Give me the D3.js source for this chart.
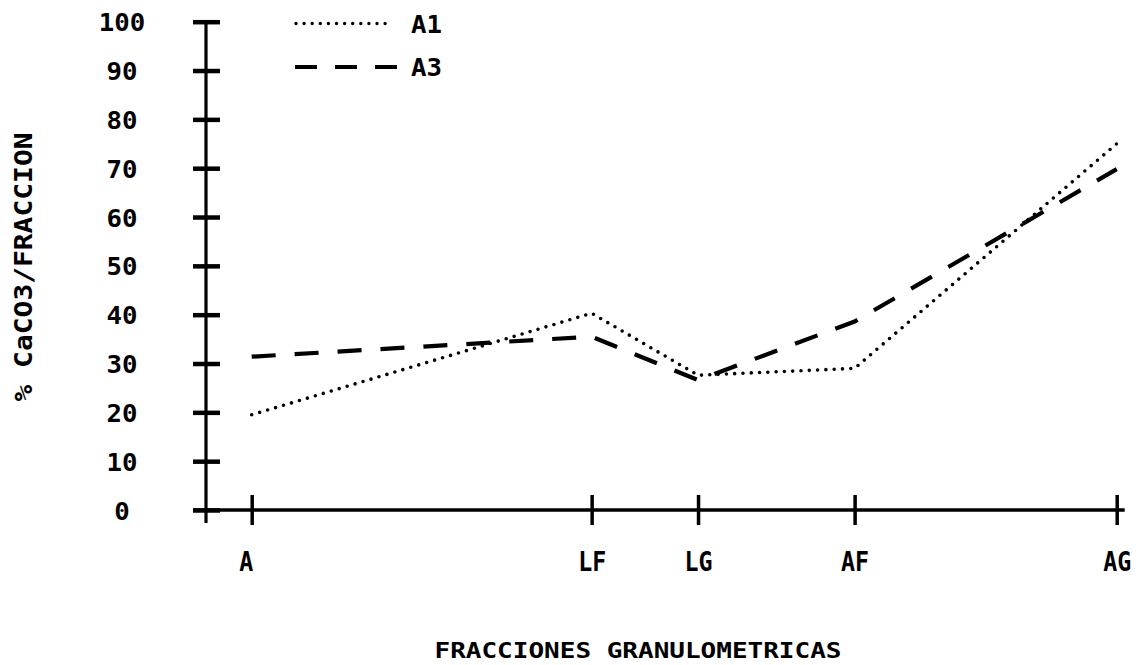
<!DOCTYPE html>
<html>
<head>
<meta charset="utf-8">
<script src="https://cdn.jsdelivr.net/npm/d3@7/dist/d3.min.js"></script>
<style>
  html, body { margin: 0; padding: 0; background: #fff; }
  svg { display: block; }
  text { font-family: "DejaVu Sans Mono", "Liberation Mono", monospace; font-weight: bold; fill: #000; }
</style>
</head>
<body>
<svg id="chart" width="1140" height="665"></svg>
<script>
// Granulometric fractions along the x axis and their relative spacing
const fractions = ["A", "LF", "LG", "AF", "AG"];
const fractionSpacing = [0, 0.393, 0.516, 0.697, 1];

// % CaCO3 per fraction for each sample
const seriesA1 = [19.5, 40.3, 27.6, 29.0, 75.0];
const seriesA3 = [31.4, 35.5, 26.6, 38.6, 69.8];

// Y tick values
const yTicks = [0, 10, 20, 30, 40, 50, 60, 70, 80, 90, 100];

const svg = d3.select("#chart");

const x = d3.scaleLinear().domain([0, 1]).range([251.7, 1116.7]);
const y = d3.scaleLinear().domain([0, 100]).range([510, 21.7]);
const axisX = 206;

// Y axis: ticks cross the axis line
const yAxis = svg.append("g")
  .attr("transform", `translate(${axisX},0)`)
  .call(d3.axisLeft(y).tickValues(yTicks).tickSize(14).tickFormat(d3.format("d")));
yAxis.select(".domain").remove();
yAxis.selectAll(".tick line")
  .attr("x1", -13).attr("x2", 14)
  .attr("stroke", "#000").attr("stroke-width", 4.5);
yAxis.selectAll(".tick text")
  .attr("x", 122 - axisX).attr("dy", "0.36em")
  .attr("text-anchor", "middle")
  .attr("textLength", d => String(d).length * 15.5)
  .attr("lengthAdjust", "spacingAndGlyphs")
  .style("font-size", "25px");
yAxis.append("line")
  .attr("x1", 0).attr("x2", 0)
  .attr("y1", y(100)).attr("y2", y(0) + 13)
  .attr("stroke", "#000").attr("stroke-width", 3.2);

// X axis: ticks cross the axis line
const xAxis = svg.append("g")
  .attr("transform", `translate(0,${y(0)})`)
  .call(d3.axisBottom(x).tickValues(fractionSpacing).tickSize(15)
    .tickFormat((d, i) => fractions[i]));
xAxis.select(".domain").remove();
xAxis.selectAll(".tick line")
  .attr("y1", -15).attr("y2", 15)
  .attr("stroke", "#000").attr("stroke-width", 3.5);
xAxis.selectAll(".tick text")
  .attr("x", (d, i) => i === 0 ? -6 : 0)
  .attr("y", 52).attr("dy", "0.36em")
  .attr("textLength", (d, i) => fractions[i].length * 14)
  .attr("lengthAdjust", "spacingAndGlyphs")
  .style("font-size", "26px");
xAxis.append("line")
  .attr("x1", axisX - 13).attr("x2", x(1) + 8)
  .attr("y1", 0).attr("y2", 0)
  .attr("stroke", "#000").attr("stroke-width", 3.5);

// Data lines
const line = d3.line()
  .x((d, i) => x(fractionSpacing[i]))
  .y(d => y(d));

svg.append("path")
  .datum(seriesA3)
  .attr("d", line)
  .attr("fill", "none")
  .attr("stroke", "#000")
  .attr("stroke-width", 4.2)
  .attr("stroke-dasharray", "24 19");

svg.append("path")
  .datum(seriesA1)
  .attr("d", line)
  .attr("fill", "none")
  .attr("stroke", "#000")
  .attr("stroke-width", 3.6)
  .attr("stroke-linecap", "round")
  .attr("stroke-dasharray", "0 8.3");

// Legend
const legend = svg.append("g");
legend.append("line")
  .attr("x1", 296).attr("x2", 393).attr("y1", 23.5).attr("y2", 23.5)
  .attr("stroke", "#000").attr("stroke-width", 3.4)
  .attr("stroke-linecap", "round").attr("stroke-dasharray", "0 8.1");
legend.append("text")
  .attr("x", 411).attr("y", 23.5).attr("dy", "0.36em")
  .attr("textLength", 31).attr("lengthAdjust", "spacingAndGlyphs")
  .style("font-size", "25px").text("A1");
legend.append("line")
  .attr("x1", 295).attr("x2", 397).attr("y1", 67).attr("y2", 67)
  .attr("stroke", "#000").attr("stroke-width", 4.2)
  .attr("stroke-dasharray", "22 18");
legend.append("text")
  .attr("x", 411).attr("y", 67).attr("dy", "0.36em")
  .attr("textLength", 31).attr("lengthAdjust", "spacingAndGlyphs")
  .style("font-size", "25px").text("A3");

// Axis titles
svg.append("text")
  .attr("x", 638).attr("y", 650).attr("dy", "0.36em")
  .attr("text-anchor", "middle")
  .attr("textLength", 407).attr("lengthAdjust", "spacingAndGlyphs")
  .style("font-size", "21px")
  .text("FRACCIONES GRANULOMETRICAS");

svg.append("text")
  .attr("transform", "translate(23,267) rotate(-90)")
  .attr("dy", "0.36em")
  .attr("text-anchor", "middle")
  .attr("textLength", 269).attr("lengthAdjust", "spacingAndGlyphs")
  .style("font-size", "24px")
  .text("% CaCO3/FRACCION");
</script>
</body>
</html>
